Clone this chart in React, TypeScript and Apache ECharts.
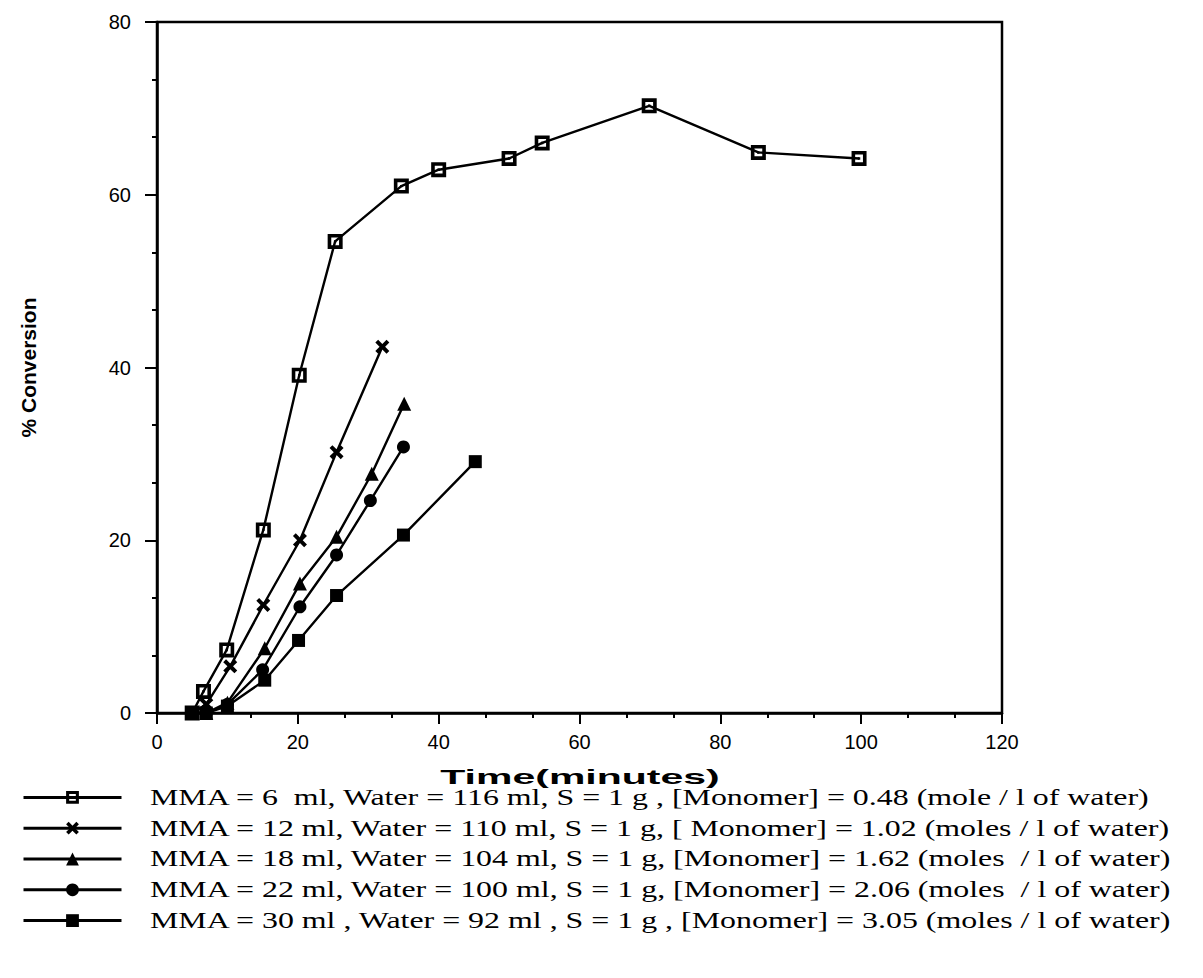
import React, { useEffect, useRef } from "react";
import * as echarts from "echarts";

const xTicks = [0, 20, 40, 60, 80, 100, 120];
const yTicks = [0, 20, 40, 60, 80];

const seriesNames = [
  "MMA = 6  ml, Water = 116 ml, S = 1 g , [Monomer] = 0.48 (mole / l of water)",
  "MMA = 12 ml, Water = 110 ml, S = 1 g, [ Monomer] = 1.02 (moles / l of water)",
  "MMA = 18 ml, Water = 104 ml, S = 1 g, [Monomer] = 1.62 (moles  / l of water)",
  "MMA = 22 ml, Water = 100 ml, S = 1 g, [Monomer] = 2.06 (moles  / l of water)",
  "MMA = 30 ml , Water = 92 ml , S = 1 g , [Monomer] = 3.05 (moles / l of water)",
];

const time6 = [5, 6.6, 9.9, 15.1, 20.2, 25.3, 34.7, 40, 50, 54.7, 69.9, 85.4, 99.7];
const conv6 = [0, 2.5, 7.3, 21.2, 39.1, 54.6, 61.0, 62.9, 64.2, 66.0, 70.3, 64.9, 64.2];

const time12 = [5, 7, 10.4, 15.1, 20.3, 25.5, 32];
const conv12 = [0, 1, 5.4, 12.5, 20.0, 30.2, 42.4];

const time18 = [5, 7, 10, 15.3, 20.3, 25.5, 30.5, 35.1];
const conv18 = [0, 0, 1.2, 7.5, 15.0, 20.4, 27.7, 35.8];

const time22 = [5, 7, 10, 15, 20.3, 25.5, 30.3, 35];
const conv22 = [0, 0, 1.0, 5.0, 12.3, 18.3, 24.6, 30.8];

const time30 = [5, 7, 10, 15.3, 20.1, 25.5, 35, 45.2];
const conv30 = [0, 0, 0.8, 3.8, 8.4, 13.6, 20.6, 29.1];

const squareDot =
  "path://M0,0H10V10H0Z M2.4,2.4V7.6H7.6V2.4Z M4.2,4.2H5.8V5.8H4.2Z";
const crossMark =
  "path://M2,0L5,3L8,0L10,2L7,5L10,8L8,10L5,7L2,10L0,8L3,5L0,2Z";

const pairs = (t: number[], v: number[]) => t.map((x, i) => [x, v[i]]);

export default function App() {
  const ref = useRef<HTMLDivElement>(null);
  useEffect(() => {
    if (!ref.current) return;
    const chart = echarts.init(ref.current, null, { renderer: "svg" });
    const symbols = [squareDot, crossMark, "triangle", "circle", "rect"];
    const sizes = [15, 14, 14, 13, 13];
    const datasets = [
      pairs(time6, conv6),
      pairs(time12, conv12),
      pairs(time18, conv18),
      pairs(time22, conv22),
      pairs(time30, conv30),
    ];
    const axisLabelStyle = {
      color: "#000",
      fontFamily: "Liberation Sans, Arial, sans-serif",
      fontSize: 20,
    };
    const rowY = [797, 828, 858, 889, 920];
    const legendTexts = seriesNames.map((name, i) => ({
      type: "text",
      x: 150,
      y: rowY[i],
      scaleX: 1.33,
      silent: true,
      style: {
        text: name,
        x: 0,
        y: 0,
        fill: "#000",
        font: '24px "Liberation Serif", "Times New Roman", serif',
        verticalAlign: "middle",
        align: "left",
      },
    }));
    chart.setOption({
      animation: false,
      backgroundColor: "#fff",
      grid: {
        left: 157,
        top: 22,
        right: 201,
        bottom: 265,
        show: true,
        borderColor: "#000",
        borderWidth: 2.5,
        backgroundColor: "transparent",
      },
      legend: {
        orient: "vertical",
        left: 17,
        top: 786,
        itemWidth: 98,
        itemHeight: 16,
        itemGap: 18,
        selectedMode: false,
        formatter: () => "",
        textStyle: { fontSize: 10, lineHeight: 10, padding: 0 },
        lineStyle: { width: 3, color: "#000" },
        data: seriesNames,
      },
      graphic: [
        ...legendTexts,
        {
          type: "text",
          x: 580,
          y: 777,
          scaleX: 2.05,
          silent: true,
          style: {
            text: "Time(minutes)",
            x: 0,
            y: 0,
            fill: "#000",
            font: 'bold 20px "Liberation Sans", Arial, sans-serif',
            align: "center",
            verticalAlign: "middle",
          },
        },
      ],
      xAxis: {
        type: "value",
        min: 0,
        max: 120,
        interval: 20,
        axisLine: { show: true, lineStyle: { color: "#000", width: 2.5 } },
        axisTick: { show: true, length: 11, lineStyle: { color: "#000", width: 2 } },
        minorTick: { show: true, splitNumber: 3, length: 5, lineStyle: { color: "#000", width: 2 } },
        splitLine: { show: false },
        axisLabel: { ...axisLabelStyle, margin: 19, formatter: (v: number) => (xTicks.includes(v) ? String(v) : "") },
      },
      yAxis: {
        type: "value",
        min: 0,
        max: 80,
        interval: 20,
        name: "% Conversion",
        nameLocation: "middle",
        nameGap: 118,
        nameRotate: 90,
        nameTextStyle: {
          color: "#000",
          fontFamily: "Liberation Sans, Arial, sans-serif",
          fontWeight: "bold",
          fontSize: 21,
        },
        axisLine: { show: true, lineStyle: { color: "#000", width: 2.5 } },
        axisTick: { show: true, length: 12, lineStyle: { color: "#000", width: 2 } },
        minorTick: { show: true, splitNumber: 3, length: 5, lineStyle: { color: "#000", width: 2 } },
        splitLine: { show: false },
        axisLabel: { ...axisLabelStyle, margin: 26, formatter: (v: number) => (yTicks.includes(v) ? String(v) : "") },
      },
      series: datasets.map((d, i) => ({
        name: seriesNames[i],
        type: "line",
        data: d,
        symbol: symbols[i],
        symbolSize: sizes[i],
        showAllSymbol: true,
        z: 10 - i,
        lineStyle: { color: "#000", width: 2.4 },
        itemStyle: { color: "#000", borderWidth: 0 },
        emphasis: { disabled: true },
      })),
    });
    return () => chart.dispose();
  }, []);
  return (
    <div
      ref={ref}
      style={{ position: "absolute", left: 0, top: 0, width: 1203, height: 978 }}
    />
  );
}
